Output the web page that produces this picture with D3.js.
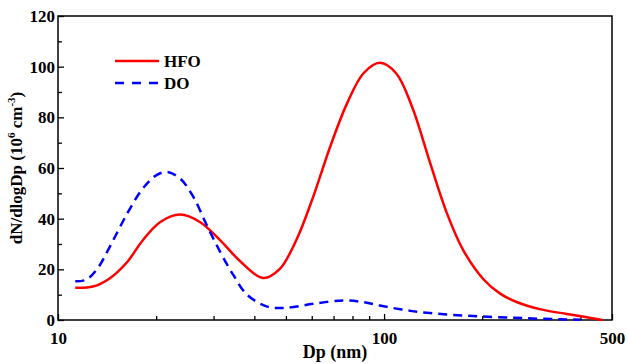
<!DOCTYPE html>
<html>
<head>
<meta charset="utf-8">
<script src="https://cdn.jsdelivr.net/npm/d3@7"></script>
<style>
  body { margin: 0; background: #fff; }
  text { font-family: "Liberation Serif", "Times New Roman", serif; font-weight: bold; fill: #000; }
</style>
</head>
<body>
<div id="chart"></div>
<script>
// series
var hfoDp = [11.3, 12.8, 14.4, 16.3, 18.2, 20.6, 23.7, 27.3, 31.4, 36, 42.5, 47.9, 54, 60.6, 68.3, 77, 86.6, 97.2, 109, 122, 138.4, 156, 175, 202, 227, 256, 300, 363, 406, 467];
var hfoN = [12.7, 13.2, 16.4, 22.9, 31.5, 38.7, 41.6, 38.6, 31.5, 23.5, 16.6, 20.2, 32, 48.6, 68.3, 85.5, 97.5, 101.5, 97.3, 84, 62, 42, 27.5, 16, 10.4, 7, 4.3, 2.4, 1.4, 0];
var doDp = [11.3, 12.2, 13.2, 14.4, 16.3, 18.2, 20, 21.6, 23.7, 26, 28.6, 31.4, 34.4, 38, 43.8, 50, 60.6, 75, 87, 97, 122, 156, 197, 250, 300, 350, 400];
var doN = [15.3, 15.9, 20.2, 28.8, 42, 51.9, 57.1, 58.4, 55.8, 48.6, 37.4, 27, 18, 10, 5.3, 4.8, 6.4, 7.7, 7, 5.7, 3.5, 2.2, 1.4, 0.9, 0.5, 0.3, 0.1];

var xMajor = [10, 100, 500];
var xMinor = [20, 30, 40, 50, 60, 70, 80, 90, 200, 400];
var yMajor = [0, 20, 40, 60, 80, 100, 120];
var yMinor = [10, 30, 50, 70, 90, 110];

var seriesNames = ['HFO', 'DO'];

var width = 628,
  height = 364,
  margin = { top: 16, right: 16, bottom: 44, left: 58 };

var x = d3.scaleLog()
  .domain([10, 500])
  .range([margin.left, width - margin.right]);

var y = d3.scaleLinear()
  .domain([0, 120])
  .range([height - margin.bottom, margin.top]);

var svg = d3.select('#chart').append('svg')
  .attr('width', width)
  .attr('height', height);

// frame
svg.append('rect')
  .attr('x', x.range()[0])
  .attr('y', y.range()[1])
  .attr('width', x.range()[1] - x.range()[0])
  .attr('height', y.range()[0] - y.range()[1])
  .attr('fill', 'none')
  .attr('stroke', '#000')
  .attr('stroke-width', 1.5);

// inward ticks
function styleAxis(g) {
  g.select('.domain').remove();
  g.selectAll('line').attr('stroke', '#000').attr('stroke-width', 1.3);
  g.selectAll('text').style('font-size', '17px');
}

svg.append('g')
  .attr('transform', 'translate(0,' + y.range()[0] + ')')
  .call(d3.axisBottom(x).tickValues(xMinor).tickSize(-4).tickFormat(''))
  .call(styleAxis);

svg.append('g')
  .attr('transform', 'translate(0,' + y.range()[0] + ')')
  .call(d3.axisBottom(x).tickValues(xMajor).tickSize(-6).tickPadding(12)
    .tickFormat(function (d) { return d; }))
  .call(styleAxis);

svg.append('g')
  .attr('transform', 'translate(' + x.range()[0] + ',0)')
  .call(d3.axisLeft(y).tickValues(yMinor).tickSize(-4).tickFormat(''))
  .call(styleAxis);

svg.append('g')
  .attr('transform', 'translate(' + x.range()[0] + ',0)')
  .call(d3.axisLeft(y).tickValues(yMajor).tickSize(-6).tickPadding(3))
  .call(styleAxis);

// axis titles
svg.append('text')
  .attr('x', (x.range()[0] + x.range()[1]) / 2)
  .attr('y', 358)
  .attr('text-anchor', 'middle')
  .style('font-size', '18px')
  .text('Dp (nm)');

var yTitle = svg.append('text')
  .attr('transform', 'translate(22,' + ((y.range()[0] + y.range()[1]) / 2) + ') rotate(-90)')
  .attr('text-anchor', 'middle')
  .style('font-size', '17px');
yTitle.append('tspan').text('dN/dlogDp (10');
yTitle.append('tspan').attr('dy', -7).style('font-size', '11px').text('6');
yTitle.append('tspan').attr('dy', 7).text(' cm');
yTitle.append('tspan').attr('dy', -7).style('font-size', '11px').text('-3');
yTitle.append('tspan').attr('dy', 7).text(')');

// curves
var line = d3.line()
  .x(function (d) { return x(d[0]); })
  .y(function (d) { return y(d[1]); })
  .curve(d3.curveCatmullRom.alpha(0.5));

svg.append('path')
  .datum(d3.zip(hfoDp, hfoN))
  .attr('d', line)
  .attr('fill', 'none')
  .attr('stroke', '#ff0000')
  .attr('stroke-width', 2.5);

svg.append('path')
  .datum(d3.zip(doDp, doN))
  .attr('d', line)
  .attr('fill', 'none')
  .attr('stroke', '#0000ff')
  .attr('stroke-width', 2.5)
  .attr('stroke-dasharray', '9,6');

// legend
var legend = svg.append('g').selectAll('g')
    .data(seriesNames)
  .enter().append('g')
    .attr('transform', function (d, i) { return 'translate(115,' + (61 + i * 22) + ')'; });

legend.append('line')
  .attr('x1', 0)
  .attr('x2', 44)
  .attr('stroke', function (d, i) { return i === 0 ? '#ff0000' : '#0000ff'; })
  .attr('stroke-width', 2.5)
  .attr('stroke-dasharray', function (d, i) { return i === 0 ? null : '9,8'; });

legend.append('text')
  .attr('x', 49)
  .attr('y', 6)
  .style('font-size', '17px')
  .text(function (d) { return d; });
</script>
</body>
</html>
